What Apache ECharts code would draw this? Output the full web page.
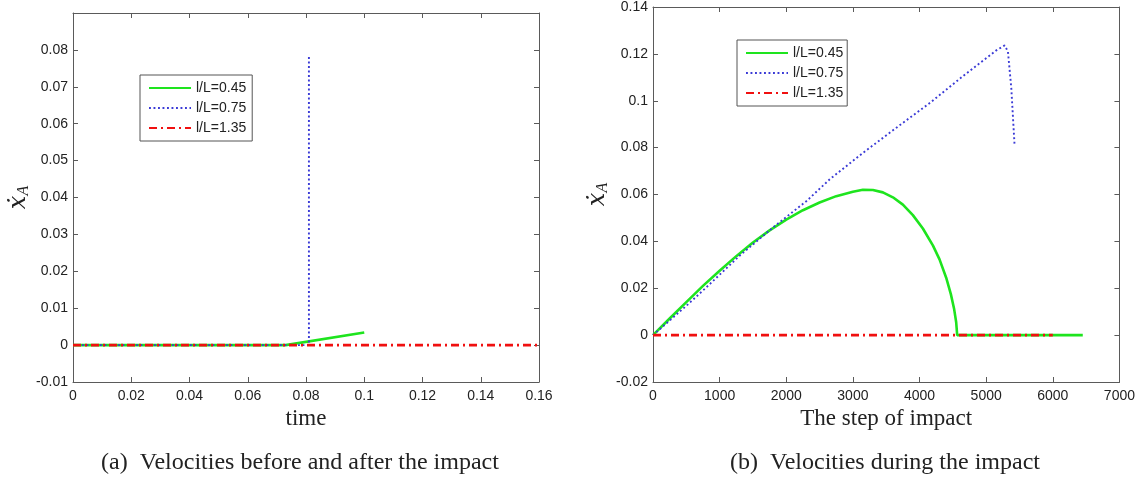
<!DOCTYPE html>
<html>
<head>
<meta charset="utf-8">
<script src="https://cdn.jsdelivr.net/npm/echarts@6/dist/echarts.min.js"></script>
<style>
html,body{margin:0;padding:0;background:#fff;}
#chart{width:1138px;height:481px;}
</style>
</head>
<body>
<div id="chart"></div>
<script>
// ---- data ----
const seriesNames = ['l/L=0.45', 'l/L=0.75', 'l/L=1.35'];

// (a) velocities before and after the impact: [time, xdot_A]
const leftGreen = [[0, 0], [0.073, 0], [0.1, 0.0034]];
const leftBlue  = [[0, 0], [0.081, 0], [0.081, 0.0015], [0.081, 0.0785]];
const leftRed   = [[0, 0], [0.16, 0]];

// (b) velocities during the impact: [step, xdot_A]
const rightGreen = [[0, 0], [250, 0.0071], [500, 0.0141], [750, 0.0210], [1000, 0.0275], [1250, 0.0337],
  [1500, 0.0395], [1750, 0.0447], [2000, 0.0493], [2250, 0.0533], [2500, 0.0566], [2750, 0.0593],
  [3000, 0.0612], [3150, 0.0620], [3300, 0.0619], [3450, 0.0609], [3600, 0.0588], [3750, 0.0557],
  [3900, 0.0512], [4050, 0.0455], [4200, 0.0383], [4300, 0.0323], [4400, 0.0245], [4470, 0.0175],
  [4520, 0.0110], [4550, 0.0055], [4565, 0], [6450, 0]];
const rightBlue = [[0, 0], [500, 0.0125], [805, 0.0205], [1304, 0.034], [1804, 0.046], [2304, 0.0572],
  [2653, 0.0665], [3153, 0.0778], [3653, 0.0885], [4152, 0.099], [4652, 0.1105], [5152, 0.1215],
  [5277, 0.1236], [5327, 0.121], [5377, 0.1054], [5427, 0.0807]];
const rightRed = [[0, 0], [6000, 0]];

// axis ranges / ticks
const leftX  = {min: 0, max: 0.16, interval: 0.02};
const leftY  = {min: -0.01, max: 0.09, interval: 0.01, hideLabel: 0.09};
const rightX = {min: 0, max: 7000, interval: 1000};
const rightY = {min: -0.02, max: 0.14, interval: 0.02};

const captions = ['(a)  Velocities before and after the impact', '(b)  Velocities during the impact'];
const xTitles = ['time', 'The step of impact'];

// ---- styles ----
const GREEN = '#1ee41e', BLUE = '#3a3ad6', RED = '#f01010';
const AX = '#5a5a5a', TXT = '#222';
const fmt = v => String(+(+v).toFixed(4));

function axisCommon(showLabel, margin) {
  return {
    axisLine: {show: true, onZero: false, lineStyle: {color: AX, width: 1}},
    axisTick: {show: true, inside: true, length: 5, lineStyle: {color: AX}},
    splitLine: {show: false},
    axisLabel: {show: showLabel, color: TXT, fontSize: 14, fontFamily: 'Liberation Sans, Arial, sans-serif', margin: margin}
  };
}

function xAx(grid, r, pos, show, title) {
  const a = Object.assign({type: 'value', gridIndex: grid, position: pos, min: r.min, max: r.max, interval: r.interval}, axisCommon(show, 7));
  a.axisLabel.formatter = fmt;
  if (title) {
    a.name = title; a.nameLocation = 'middle'; a.nameGap = 24;
    a.nameTextStyle = {fontFamily: 'Liberation Serif, Times New Roman, serif', fontSize: 23, color: TXT};
  }
  return a;
}
function yAx(grid, r, pos, show, gap) {
  const a = Object.assign({type: 'value', gridIndex: grid, position: pos, min: r.min, max: r.max, interval: r.interval}, axisCommon(show, 5));
  a.axisLabel.formatter = v => (r.hideLabel !== undefined && Math.abs(v - r.hideLabel) < 1e-9) ? '' : fmt(v);
  if (gap) {
    a.name = '{x|ẋ}{s|A}';
    a.nameLocation = 'middle'; a.nameRotate = 90; a.nameGap = gap;
    a.nameTextStyle = {
      rich: {
        x: {fontFamily: 'DejaVu Serif, Liberation Serif, serif', fontStyle: 'italic', fontSize: 24, color: TXT, verticalAlign: 'middle'},
        s: {fontFamily: 'Liberation Serif, serif', fontStyle: 'italic', fontSize: 16, color: TXT, verticalAlign: 'top', padding: [11, 0, 0, 0]}
      }
    };
  }
  return a;
}

function lineSeries(name, data, xi, yi) {
  const styles = {
    'l/L=0.45': {color: GREEN, width: 2.6, type: 'solid'},
    'l/L=0.75': {color: BLUE, width: 1.9, type: [1.9, 2.6]},
    'l/L=1.35': {color: RED, width: 2.6, type: [8, 4, 2, 4]}
  };
  const s = styles[name];
  return {
    name: name, type: 'line', xAxisIndex: xi, yAxisIndex: yi, data: data,
    showSymbol: false, symbol: 'none', smooth: false, animation: false,
    lineStyle: {color: s.color, width: s.width, type: s.type},
    itemStyle: {color: s.color}
  };
}

const chart = echarts.init(document.getElementById('chart'), null, {renderer: 'canvas'});
const legendCommon = {
  orient: 'vertical', itemWidth: 42, itemHeight: 14, itemGap: 6,
  backgroundColor: '#fff', borderColor: '#555', borderWidth: 1,
  itemStyle: {opacity: 0},
  textStyle: {fontSize: 14, color: TXT, fontFamily: 'Liberation Sans, Arial, sans-serif'},
  selectedMode: false, data: seriesNames
};
chart.setOption({
  backgroundColor: '#fff',
  animation: false,
  grid: [
    {left: 73, top: 13, width: 466, height: 369},
    {left: 653, top: 5, width: 467, height: 377}
  ],
  legend: [
    Object.assign({left: 140, top: 75, padding: [6, 6, 6, 8]}, legendCommon),
    Object.assign({left: 737, top: 40, padding: [6, 4, 6, 8]}, legendCommon)
  ],
  xAxis: [
    xAx(0, leftX, 'bottom', true, xTitles[0]),
    xAx(0, leftX, 'top', false),
    xAx(1, rightX, 'bottom', true, xTitles[1]),
    xAx(1, rightX, 'top', false)
  ],
  yAxis: [
    yAx(0, leftY, 'left', true, 40),
    yAx(0, leftY, 'right', false),
    yAx(1, rightY, 'left', true, 42),
    yAx(1, rightY, 'right', false)
  ],
  series: [
    lineSeries(seriesNames[0], leftGreen, 0, 0),
    lineSeries(seriesNames[1], leftBlue, 0, 0),
    lineSeries(seriesNames[2], leftRed, 0, 0),
    lineSeries(seriesNames[0], rightGreen, 2, 2),
    lineSeries(seriesNames[1], rightBlue, 2, 2),
    lineSeries(seriesNames[2], rightRed, 2, 2)
  ],
  graphic: [
    {type: 'text', x: 300, y: 463, style: {text: captions[0], font: '24px "Liberation Serif", serif', fill: TXT, align: 'center', verticalAlign: 'middle'}},
    {type: 'text', x: 885, y: 463, style: {text: captions[1], font: '24px "Liberation Serif", serif', fill: TXT, align: 'center', verticalAlign: 'middle'}}
  ]
});
</script>
</body>
</html>
